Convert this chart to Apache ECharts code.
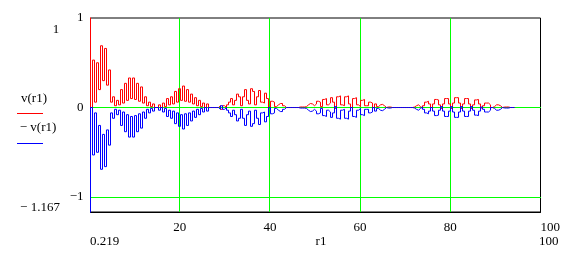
<!DOCTYPE html>
<html>
<head>
<meta charset="utf-8">
<script src="https://cdn.jsdelivr.net/npm/echarts@6/dist/echarts.min.js"></script>
<style>
html,body{margin:0;padding:0;background:#fff;}
#chart{width:569px;height:257px;}
</style>
</head>
<body>
<div id="chart"></div>
<script>
// r1 sample grid
const r0 = 0.219;
const dr = 0.4435;
const xMin = 0.219, xMax = 100;
const yMin = -1.167, yMax = 1;
// v(r1) values (one per sample)
const v = [
  1.3, 0.0, 0.53, 0.06, 0.5, 0.2, 0.69, 0.3, 0.66, 0.25,
  0.42, 0.06, 0.12, 0.02, 0.08, 0.03, 0.2, 0.05, 0.27, 0.08,
  0.33, 0.1, 0.33, 0.09, 0.27, 0.07, 0.23, 0.05, 0.12, 0.02,
  0.06, 0.01, 0.04, 0, 0, 0.03, 0, 0.05, 0.01, 0.1,
  0.03, 0.12, 0.04, 0.18, 0.06, 0.21, 0.08, 0.24, 0.07, 0.2,
  0.06, 0.15, 0.04, 0.11, 0.02, 0.08, 0.01, 0.05, 0, 0.04,
  0, 0, 0, 0, 0, 0.02, -0.02, 0.02, 0, 0.03,
  0.06, 0.1, 0.03, 0.08, 0.15, 0.12, 0.02, 0.12, 0.2, 0.08,
  0.04, 0.21, 0.18, 0.03, 0.12, 0.19, 0.06, 0.05, 0.16, 0.1,
  0, 0.07, 0.06, 0.01, 0.03, 0.045, 0.045, 0.02, 0, 0,
  0, 0, 0, 0, 0, 0.006, 0.006, 0.006, 0.01, 0.03,
  0.045, 0.04, 0.02, 0.04, 0.07, 0.06, 0.01, 0.09, 0.1, 0.03,
  0.05, 0.11, 0.06, -0.01, 0.12, 0.13, 0.03, 0.02, 0.12, 0.13,
  0.04, 0, 0.1, 0.11, 0.03, 0.01, 0.08, 0.09, 0.02, 0.02,
  0.06, 0.05, 0, 0.04, 0.01, 0.03, 0.035, 0.02, 0, 0.006,
  0.006, 0, 0, 0, 0, 0, 0, 0, 0, 0,
  0, 0, 0.005, 0.02, 0.03, 0.01, -0.005, 0.02, 0.06, 0.07,
  0.04, 0, 0.04, 0.09, 0.085, 0.03, -0.01, 0.04, 0.1, 0.1,
  0.04, -0.01, 0.05, 0.11, 0.11, 0.05, -0.01, 0.04, 0.1, 0.1,
  0.04, -0.01, 0.03, 0.085, 0.09, 0.04, -0.005, 0.02, 0.05, 0.05,
  0.03, 0, 0.01, 0.03, 0.03, 0.02, 0, 0.005, 0.006, 0.006,
  0, 0, 0
];
const xTicks = [20, 40, 60, 80, 100];
const yTicks = [1, 0, -1];
const gridX = [20, 40, 60, 80];
const gridY = [0, -1];

const r = v.map((_, i) => r0 + i * dr);
const vData = v.map((y, i) => [r[i], y]);
const mvData = v.map((y, i) => [r[i], -y]);

const font = 'Liberation Serif, Times New Roman, serif';
const txt = (x, y, text, align) => ({
  type: 'text', x: x, y: y, silent: true, z: 10,
  style: { text: text, fill: '#000', font: '13px ' + font, textAlign: align || 'center', textVerticalAlign: 'middle' }
});
const GREEN = '#00ff00';

const chart = echarts.init(document.getElementById('chart'), null, { renderer: 'canvas' });
chart.setOption({
  animation: false,
  backgroundColor: '#fff',
  grid: { left: 90.5, right: 28.5, top: 18, bottom: 45, show: true, borderColor: '#000', borderWidth: 1, backgroundColor: 'transparent' },
  xAxis: {
    type: 'value', min: xMin, max: xMax,
    axisLine: { show: true, onZero: false, lineStyle: { color: '#000', width: 1 } },
    axisTick: { show: false },
    splitLine: { show: false },
    axisLabel: { customValues: xTicks, alignMaxLabel: 'left', margin: 9, color: '#000', fontFamily: font, fontSize: 13 }
  },
  yAxis: {
    type: 'value', min: yMin, max: yMax,
    axisLine: { show: false },
    axisTick: { show: false },
    splitLine: { show: false },
    axisLabel: {
      customValues: yTicks, margin: 7, color: '#000', fontFamily: font, fontSize: 13,
      formatter: (val) => val < 0 ? '\u2212' + Math.abs(val) : String(val)
    }
  },
  series: [
    {
      name: 'v(r1)', type: 'line', data: vData, step: 'start', showSymbol: false, z: 2,
      lineStyle: { color: '#ff0000', width: 1 }, itemStyle: { color: '#ff0000' }, clip: true
    },
    {
      name: '\u2212 v(r1)', type: 'line', data: mvData, step: 'start', showSymbol: false, z: 3,
      lineStyle: { color: '#0000ff', width: 1 }, itemStyle: { color: '#0000ff' }, clip: true
    }
  ]
});

// Green grid lines, positioned through the axes' own scales, drawn as 1px filled rects
const pTop = Math.round(chart.convertToPixel({ yAxisIndex: 0 }, yMax));
const pBot = Math.round(chart.convertToPixel({ yAxisIndex: 0 }, yMin));
const pLft = Math.round(chart.convertToPixel({ xAxisIndex: 0 }, xMin));
const pRgt = Math.round(chart.convertToPixel({ xAxisIndex: 0 }, xMax));
const guides = [];
gridX.forEach(x => {
  const px = Math.floor(chart.convertToPixel({ xAxisIndex: 0 }, x));
  guides.push({ type: 'rect', silent: true, z: 1, shape: { x: px, y: pTop, width: 1, height: pBot - pTop }, style: { fill: GREEN } });
});
gridY.forEach(y => {
  const py = Math.floor(chart.convertToPixel({ yAxisIndex: 0 }, y));
  guides.push({ type: 'rect', silent: true, z: 1, shape: { x: pLft, y: py, width: pRgt - pLft, height: 1 }, style: { fill: GREEN } });
});

chart.setOption({
  graphic: guides.concat([
    txt(56, 30, '1'),
    txt(34, 98.5, 'v(r1)'),
    { type: 'rect', silent: true, shape: { x: 17, y: 113, width: 26, height: 1 }, style: { fill: '#ff0000' } },
    txt(38, 127.5, '\u2212 v(r1)'),
    { type: 'rect', silent: true, shape: { x: 17, y: 143, width: 26, height: 1 }, style: { fill: '#0000ff' } },
    txt(40, 208, '\u2212 1.167'),
    txt(90, 242, '0.219', 'left'),
    txt(321, 242, 'r1'),
    txt(539, 242, '100', 'left')
  ])
});
</script>
</body>
</html>
